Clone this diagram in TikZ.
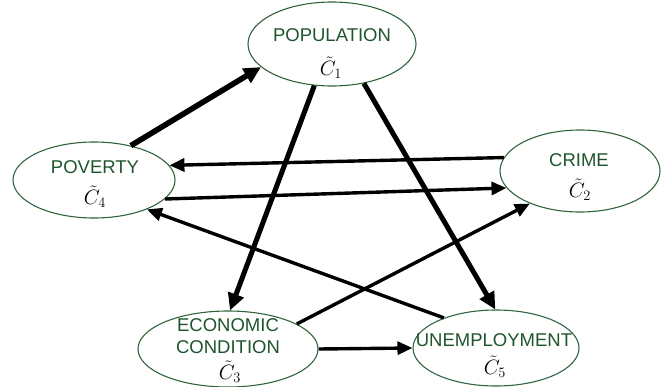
\documentclass[tikz,border=0pt]{standalone}
\usepackage{fontspec}
\setmainfont{Liberation Sans}
\usetikzlibrary{arrows.meta,shapes.geometric}
\definecolor{ellgreen}{RGB}{50,100,60}
\definecolor{txtgreen}{RGB}{30,85,45}
\tikzset{
  ell/.style={ellipse, draw=ellgreen, line width=1.1pt, inner sep=0pt},
  lbl/.style={text=txtgreen, font=\fontsize{18.5}{20}\selectfont, inner sep=0pt},
  sym/.style={text=black, font=\fontsize{21}{22}\selectfont, inner sep=0pt},
  conn/.style={line width=3.4pt, -{Triangle[length=15pt,width=13pt]}},
  thickconn/.style={line width=5pt, -{Triangle[length=17pt,width=16pt]}}
}
\begin{document}
\begin{tikzpicture}[x=1pt,y=-1pt]
\useasboundingbox (0,0) rectangle (669,386);
% ellipses
\node[ell, minimum width=168pt, minimum height=84pt] (pop) at (332,44) {};
\node[ell, minimum width=162pt, minimum height=76pt] (pov) at (94,180) {};
\node[ell, minimum width=160pt, minimum height=82pt] (cri) at (580,171) {};
\node[ell, minimum width=180pt, minimum height=76pt] (eco) at (228,349) {};
\node[ell, minimum width=166pt, minimum height=76pt] (une) at (496,348) {};
% texts
\node[lbl] (popt) at (332,35) {POPULATION};
\node[sym] (pops) at (331,68) {$\tilde{C}_1$};
\node[lbl] (povt) at (95,167) {POVERTY};
\node[sym] (povs) at (95,197) {$\tilde{C}_4$};
\node[lbl] (crit) at (579,160) {CRIME};
\node[sym] (cris) at (580,190) {$\tilde{C}_2$};
\node[lbl] (ecot1) at (228,325) {ECONOMIC};
\node[lbl] (ecot2) at (228,347) {CONDITION};
\node[sym] (ecos) at (230,372) {$\tilde{C}_3$};
\node[lbl] (unet) at (494,340) {UNEMPLOYMENT};
\node[sym] (unes) at (495,367) {$\tilde{C}_5$};
% connectors
\draw[thickconn, line width=5.6pt] (pov.43) -- (pop.198);
\draw[thickconn] (pop.247) -- (eco.87);
\draw[thickconn] (pop.309) -- (une.91);
\draw[conn] (cri.170) -- (pov.11);
\draw[conn] (pov.345) -- (cri.193);
\draw[conn] (une.150) -- (pov.331);
\draw[conn] (eco.20) -- (cri.213);
\draw[conn] (eco.east) -- (une.west);
\end{tikzpicture}
\end{document}
